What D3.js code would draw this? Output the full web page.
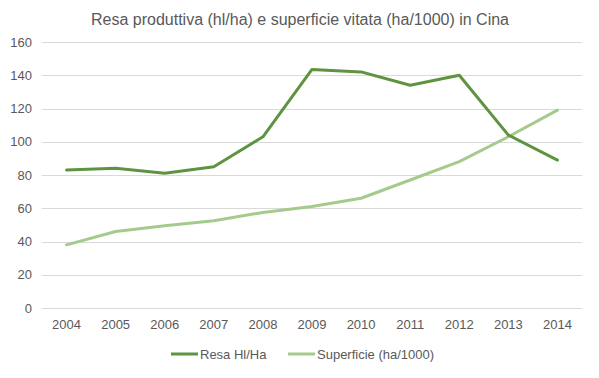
<!DOCTYPE html>
<html>
<head>
<meta charset="utf-8">
<script src="https://cdn.jsdelivr.net/npm/d3@7"></script>
<style>
  body { margin: 0; background: #fff; }
  svg { display: block; font-family: 'Liberation Sans Narrow', 'Liberation Sans', sans-serif; }
</style>
</head>
<body>
<div id="chart"></div>
<script>
var years = ['2004', '2005', '2006', '2007', '2008', '2009', '2010', '2011', '2012', '2013', '2014'];
var resa = [83, 84, 81, 85, 103, 143.5, 142, 134, 140, 104, 89];
var superficie = [38, 46, 49.5, 52.5, 57.5, 61, 66, 77, 88, 103, 119];
var yTicks = [0, 20, 40, 60, 80, 100, 120, 140, 160];
var seriesNames = ['Resa Hl/Ha', 'Superficie (ha/1000)'];
var seriesColors = ['#5e9440', '#a5cb8c'];

(function () {
    'use strict';

    var width = 599, height = 378;
    var margin = { top: 42, right: 17, bottom: 70, left: 42 };

    var svg = d3.select('#chart').append('svg')
        .attr('width', width)
        .attr('height', height);

    var x = d3.scaleBand()
        .domain(years)
        .range([margin.left, width - margin.right]);

    var y = d3.scaleLinear()
        .domain([0, 160])
        .range([height - margin.bottom, margin.top]);

    // title
    svg.append('text')
        .attr('x', 300)
        .attr('y', 25)
        .attr('text-anchor', 'middle')
        .style('font-size', '16px')
        .style('fill', '#595959')
        .text('Resa produttiva (hl/ha) e superficie vitata (ha/1000) in Cina');

    // gridlines
    svg.append('g').selectAll('line').data(yTicks).enter().append('line')
        .attr('x1', margin.left)
        .attr('x2', width - margin.right)
        .attr('y1', function (d) { return Math.round(y(d)) + 0.5; })
        .attr('y2', function (d) { return Math.round(y(d)) + 0.5; })
        .style('stroke', '#d9d9d9')
        .style('stroke-width', 1);

    // y labels
    var yAxis = svg.append('g')
        .attr('transform', 'translate(' + (margin.left - 10) + ',0)')
        .call(d3.axisLeft(y).tickValues(yTicks).tickSize(0).tickPadding(0));
    yAxis.select('.domain').remove();
    yAxis.selectAll('text')
        .style('font-size', '13px')
        .style('fill', '#595959')
        .style('font-family', "'Liberation Sans Narrow', 'Liberation Sans', sans-serif");

    // x labels
    var xAxis = svg.append('g')
        .attr('transform', 'translate(0,' + (height - margin.bottom) + ')')
        .call(d3.axisBottom(x).tickSize(0).tickPadding(12));
    xAxis.select('.domain').remove();
    xAxis.selectAll('text')
        .style('font-size', '13px')
        .style('fill', '#595959')
        .style('font-family', "'Liberation Sans Narrow', 'Liberation Sans', sans-serif");

    var line = d3.line()
        .x(function (d, i) { return x(years[i]) + x.bandwidth() / 2; })
        .y(function (d) { return y(d); });

    [superficie, resa].forEach(function (values, k) {
        svg.append('path')
            .datum(values)
            .attr('d', line)
            .style('fill', 'none')
            .style('stroke', seriesColors[1 - k])
            .style('stroke-width', 3)
            .style('stroke-linejoin', 'round')
            .style('stroke-linecap', 'round');
    });

    // legend
    var legendX = [171, 288];
    var legend = svg.append('g').selectAll('g').data(seriesNames).enter().append('g')
        .attr('transform', function (d, i) { return 'translate(' + legendX[i] + ',354)'; });
    legend.append('line')
        .attr('x1', 0).attr('x2', 27)
        .style('stroke', function (d, i) { return seriesColors[i]; })
        .style('stroke-width', 3);
    legend.append('text')
        .attr('x', 29)
        .attr('dy', '0.35em')
        .style('font-size', '13px')
        .style('fill', '#595959')
        .text(function (d) { return d; });
})();
</script>
</body>
</html>
